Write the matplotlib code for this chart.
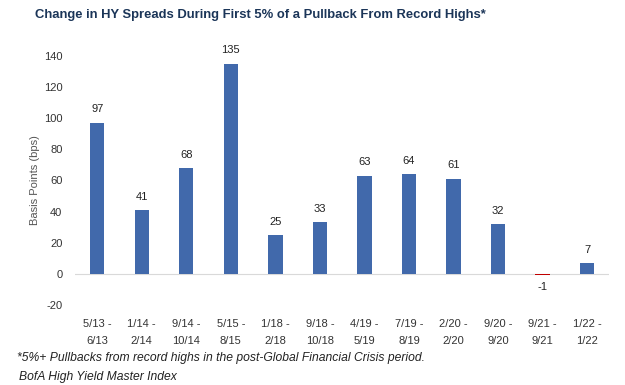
import matplotlib.pyplot as plt
import numpy as np

plt.rcParams['font.family'] = ['Liberation Sans', 'DejaVu Sans']
plt.rcParams['axes.unicode_minus'] = False

periods = ["5/13 -\n6/13", "1/14 -\n2/14", "9/14 -\n10/14", "5/15 -\n8/15",
           "1/18 -\n2/18", "9/18 -\n10/18", "4/19 -\n5/19", "7/19 -\n8/19",
           "2/20 -\n2/20", "9/20 -\n9/20", "9/21 -\n9/21", "1/22 -\n1/22"]
spread_change = [97, 41, 68, 135, 25, 33, 63, 64, 61, 32, -1, 7]
yticks = [-20, 0, 20, 40, 60, 80, 100, 120, 140]

blue = "#4169ab"
red = "#c00000"
navy = "#1b3558"

fig = plt.figure(figsize=(6.25, 3.85), dpi=100)
ax = fig.add_axes([0.12, 0.208, 0.855, 0.647])

x = np.arange(len(periods))
colors = [red if v < 0 else blue for v in spread_change]
ax.bar(x, spread_change, width=0.32, color=colors, zorder=2)

for xi, v in zip(x, spread_change):
    if v < 0:
        ax.annotate(str(v), (xi, v), xytext=(0, -5), textcoords="offset points",
                    ha="center", va="top", fontsize=8, color="#222222")
    else:
        ax.annotate(str(v), (xi, v), xytext=(0, 6), textcoords="offset points",
                    ha="center", va="bottom", fontsize=8, color="#222222")

ax.axhline(0, color="#d9d9d9", lw=0.8, zorder=1)
ax.set_xlim(-0.5, len(periods) - 0.5)
ax.set_ylim(-20, 140)
ax.set_yticks(yticks)
ax.set_xticks(x)
ax.set_xticklabels(periods, fontsize=8, color="#333333", linespacing=1.9)
ax.tick_params(axis="y", labelsize=8, labelcolor="#333333", length=0, pad=9)
ax.tick_params(axis="x", length=0, pad=10)
for s in ax.spines.values():
    s.set_visible(False)
ax.set_ylabel("Basis Points (bps)", fontsize=8, color="#555555", labelpad=3)

fig.text(0.056, 0.96, "Change in HY Spreads During First 5% of a Pullback From Record Highs*",
         fontsize=9.4, fontweight="bold", color=navy, va="center", ha="left")
fig.text(0.027, 0.07, "*5%+ Pullbacks from record highs in the post-Global Financial Crisis period.",
         fontsize=8.7, style="italic", color="#222222", va="center")
fig.text(0.031, 0.021, "BofA High Yield Master Index",
         fontsize=8.7, style="italic", color="#222222", va="center")

fig.savefig("out.png", dpi=100)
